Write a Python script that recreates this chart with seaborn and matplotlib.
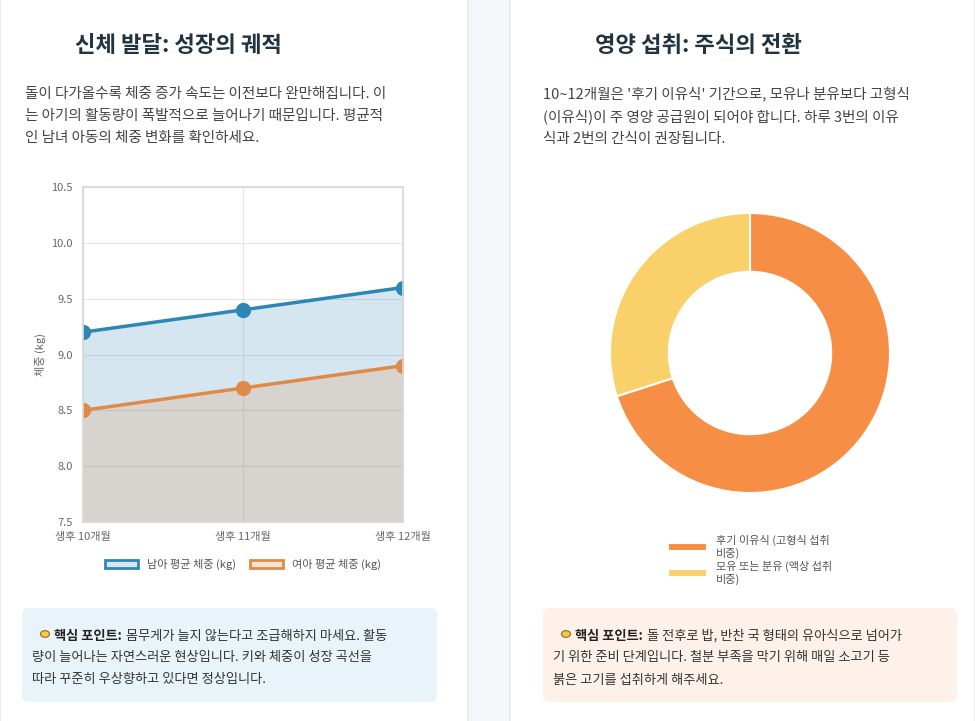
import matplotlib
matplotlib.use("Agg")
import matplotlib.pyplot as plt
import matplotlib.patches as mpatches
import pandas as pd
import seaborn as sns

months = ["생후 10개월", "생후 11개월", "생후 12개월"]
boy_weight = [9.2, 9.4, 9.6]
girl_weight = [8.5, 8.7, 8.9]
series_names = ["남아 평균 체중 (kg)", "여아 평균 체중 (kg)"]
y_ticks = [7.5, 8.0, 8.5, 9.0, 9.5, 10.0, 10.5]

diet_labels = ["후기 이유식 (고형식 섭취\n비중)", "모유 또는 분유 (액상 섭취\n비중)"]
diet_share = [70, 30]

BLUE = "#2e86b5"
ORANGE = "#e08a4a"
DONUT = ["#f68e46", "#f9d06a"]

sns.set_theme(style="white")
plt.rcParams["font.family"] = ["Noto Sans CJK KR", "DejaVu Sans"]

fig = plt.figure(figsize=(9.75, 7.21), dpi=100)
fig.patch.set_facecolor("#f4f6f9")


def card(x0, x1):
    fig.patches.append(mpatches.FancyBboxPatch(
        (x0 / 975, -0.05), (x1 - x0) / 975, 1.1, boxstyle="round,pad=0,rounding_size=0.01",
        transform=fig.transFigure, facecolor="white", edgecolor="#e3e6ea", lw=1, zorder=-2))


def infobox(x0, x1, color, bold, rest):
    fig.patches.append(mpatches.FancyBboxPatch(
        (x0 / 975, 1 - 702 / 721), (x1 - x0) / 975, 94 / 721,
        boxstyle="round,pad=0,rounding_size=0.008", transform=fig.transFigure,
        facecolor=color, edgecolor="none", zorder=-1))
    # small bulb symbol
    fig.patches.append(mpatches.Circle(((x0 + 23) / 975, 1 - 634 / 721), 4.5 / 975 * 1.0,
                                       transform=fig.transFigure, facecolor="#f7c948",
                                       edgecolor="#8a6d1a", lw=0.8, zorder=1))
    fig.text((x0 + 32) / 975, 1 - 636 / 721, bold, fontsize=9.5, weight="bold",
             color="#222", va="center")
    for i, ln in enumerate(rest.split("\n")):
        fig.text((x0 + 10) / 975 if i else (x0 + 104) / 975, 1 - (636 + 22 * i) / 721, ln,
                 fontsize=9.5, color="#333", va="center")


card(0, 468)
card(510, 975)

fig.text(75 / 975, 1 - 45 / 721, "신체 발달: 성장의 궤적", fontsize=16, weight="bold",
         color="#1f3340", va="center")
fig.text(595 / 975, 1 - 45 / 721, "영양 섭취: 주식의 전환", fontsize=16, weight="bold",
         color="#1f3340", va="center")
fig.text(25 / 975, 1 - 116 / 721,
         "돌이 다가올수록 체중 증가 속도는 이전보다 완만해집니다. 이\n는 아기의 활동량이 폭발적으로 늘어나기 때문입니다. 평균적\n인 남녀 아동의 체중 변화를 확인하세요.",
         fontsize=10.5, color="#444", va="center", linespacing=1.7)
fig.text(543 / 975, 1 - 116 / 721,
         "10~12개월은 '후기 이유식' 기간으로, 모유나 분유보다 고형식\n(이유식)이 주 영양 공급원이 되어야 합니다. 하루 3번의 이유\n식과 2번의 간식이 권장됩니다.",
         fontsize=10.5, color="#444", va="center", linespacing=1.7)

# line chart
ax = fig.add_axes([83 / 975, 1 - 522 / 721, 320 / 975, 335 / 721])
df = pd.DataFrame({"month": months * 2, "weight": boy_weight + girl_weight,
                   "series": [series_names[0]] * 3 + [series_names[1]] * 3})
x = range(len(months))
ax.fill_between(x, boy_weight, 7.5, color=BLUE, alpha=0.2, lw=0)
ax.fill_between(x, girl_weight, 7.5, color=ORANGE, alpha=0.2, lw=0)
sns.lineplot(data=df, x="month", y="weight", hue="series", palette=[BLUE, ORANGE],
             marker="o", markersize=11, markeredgewidth=0, lw=2.5, ax=ax, legend=False)
ax.set_ylim(7.5, 10.5)
ax.set_xlim(0, 2)
ax.set_yticks(y_ticks)
ax.set_yticklabels([f"{v:.1f}" for v in y_ticks])
ax.set_xticks(list(x))
ax.set_xticklabels(months)
ax.tick_params(labelsize=8, colors="#666", length=4)
ax.grid(True, color="#e5e5e5", lw=0.8)
for s in ax.spines.values():
    s.set_color("#d8d8d8")
ax.set_xlabel("")
ax.set_ylabel("체중 (kg)", fontsize=8, color="#666")
handles = [mpatches.Patch(facecolor="#d5e7f0", edgecolor=BLUE, lw=2),
           mpatches.Patch(facecolor="#f9e3d3", edgecolor=ORANGE, lw=2)]
ax.legend(handles, series_names, loc="upper center", bbox_to_anchor=(0.5, -0.08), ncol=2,
          frameon=False, fontsize=8, handlelength=3, columnspacing=1.2, labelcolor="#555")

# donut
ax2 = fig.add_axes([575 / 975, 1 - 528 / 721, 350 / 975, 350 / 721])
ax2.pie(diet_share, colors=DONUT, startangle=90, counterclock=False,
        wedgeprops=dict(width=0.42, edgecolor="white", linewidth=1.5))
ax2.set_aspect("equal")
ax2.legend(diet_labels, loc="upper center", bbox_to_anchor=(0.5, 0.01), frameon=False,
           fontsize=8, handlelength=3.5, labelcolor="#555", labelspacing=0.2)

infobox(22, 437, "#e8f4fa", "핵심 포인트:",
        "몸무게가 늘지 않는다고 조급해하지 마세요. 활동\n량이 늘어나는 자연스러운 현상입니다. 키와 체중이 성장 곡선을\n따라 꾸준히 우상향하고 있다면 정상입니다.")
infobox(543, 957, "#fdf1ea", "핵심 포인트:",
        "돌 전후로 밥, 반찬 국 형태의 유아식으로 넘어가\n기 위한 준비 단계입니다. 철분 부족을 막기 위해 매일 소고기 등\n붉은 고기를 섭취하게 해주세요.")

fig.savefig("out.png", dpi=100, facecolor=fig.get_facecolor())
